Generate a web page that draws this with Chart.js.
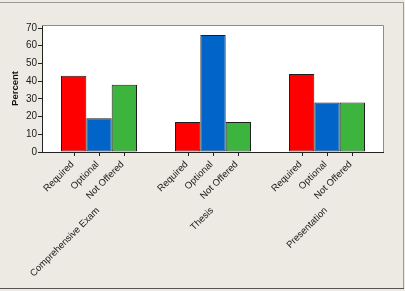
<!DOCTYPE html>
<html>
<head>
<meta charset="utf-8">
<script src="https://cdn.jsdelivr.net/npm/chart.js@4.4.1/dist/chart.umd.min.js"></script>
<style>
html, body { margin: 0; padding: 0; background: #EDEAE3; }
#wrap { width: 405px; height: 291px; }
</style>
</head>
<body>
<div id="wrap"><canvas id="chart" width="405" height="291"></canvas></div>
<script>
// data ===================================================//
const groups = ['Comprehensive Exam', 'Thesis', 'Presentation'];
const seriesNames = ['Required', 'Optional', 'Not Offered'];
const requiredVals = [43, 17, 44];
const optionalVals = [19, 66, 28];
const notOfferedVals = [38, 17, 28];
const yTickVals = [0, 10, 20, 30, 40, 50, 60, 70];

const RED = '#FF0000';
const BLUE = '#0064C8';
const GREEN = '#3DB43D';
const LABEL_FONT = '9.5px "Liberation Sans", Arial, sans-serif';

// background, frame and rotated labels ====================//
const framePlugin = {
    id: 'frame',
    beforeDraw(chart) {
        const ctx = chart.ctx;
        const a = chart.chartArea;
        ctx.save();
        ctx.fillStyle = '#EDEAE3';
        ctx.fillRect(0, 0, chart.width, chart.height);
        // outer frame
        ctx.strokeStyle = '#9A9A96';
        ctx.lineWidth = 1;
        ctx.beginPath();
        ctx.moveTo(0, 2.5);
        ctx.lineTo(403.5, 2.5);
        ctx.lineTo(403.5, 288.5);
        ctx.stroke();
        ctx.strokeStyle = '#555555';
        ctx.beginPath();
        ctx.moveTo(0, 288.5);
        ctx.lineTo(404, 288.5);
        ctx.stroke();
        // plot background
        ctx.fillStyle = '#FFFFFF';
        ctx.fillRect(a.left, a.top, a.right - a.left, a.bottom - a.top);
        ctx.restore();
    },
    afterDraw(chart) {
        const ctx = chart.ctx;
        const a = chart.chartArea;
        ctx.save();
        // top and right border of plot
        ctx.strokeStyle = '#8C8C8C';
        ctx.lineWidth = 1;
        ctx.beginPath();
        ctx.moveTo(a.left, a.top + 0.5);
        ctx.lineTo(a.right - 0.5, a.top + 0.5);
        ctx.lineTo(a.right - 0.5, a.bottom);
        ctx.stroke();
        // bottom axis line
        ctx.strokeStyle = '#222222';
        ctx.beginPath();
        ctx.moveTo(a.left, a.bottom + 0.5);
        ctx.lineTo(a.right, a.bottom + 0.5);
        ctx.stroke();

        ctx.fillStyle = '#1A1A1A';
        ctx.font = LABEL_FONT;
        ctx.textAlign = 'right';
        ctx.textBaseline = 'middle';
        chart.data.datasets.forEach((ds, di) => {
            const meta = chart.getDatasetMeta(di);
            meta.data.forEach((bar) => {
                const x = Math.round(bar.x) + 0.5;
                ctx.beginPath();
                ctx.moveTo(x, a.bottom);
                ctx.lineTo(x, a.bottom + 4);
                ctx.stroke();
                ctx.save();
                ctx.translate(x - 2, a.bottom + 11);
                ctx.rotate(-Math.PI / 4);
                ctx.fillText(ds.label, 0, 0);
                ctx.restore();
            });
        });
        // group names under the middle bar of each group
        const mid = chart.getDatasetMeta(1);
        groups.forEach((g, i) => {
            const x = mid.data[i].x;
            ctx.save();
            ctx.translate(x - 1, a.bottom + 57);
            ctx.rotate(-Math.PI / 4);
            ctx.fillText(g, 0, 0);
            ctx.restore();
        });
        ctx.restore();
    }
};

const barData = {
    labels: groups,
    datasets: [
        { label: seriesNames[0], data: requiredVals, backgroundColor: RED },
        { label: seriesNames[1], data: optionalVals, backgroundColor: BLUE },
        { label: seriesNames[2], data: notOfferedVals, backgroundColor: GREEN }
    ].map(d => Object.assign(d, {
        borderColor: '#1E1E1E',
        borderWidth: 1,
        borderSkipped: false,
        categoryPercentage: 0.667,
        barPercentage: 1.0
    }))
};

const barConfig = {
    type: 'bar',
    data: barData,
    options: {
        responsive: false,
        animation: false,
        layout: {
            padding: { left: 0, top: 25, right: 21, bottom: 139 }
        },
        plugins: {
            legend: { display: false },
            tooltip: { enabled: false }
        },
        scales: {
            x: {
                display: false
            },
            y: {
                min: 0,
                max: 71.7,
                afterBuildTicks: (scale) => {
                    scale.ticks = yTickVals.map(v => ({ value: v }));
                },
                afterFit: (scale) => {
                    scale.width = 42;
                },
                border: { display: true, color: '#222222', width: 1 },
                grid: {
                    drawOnChartArea: false,
                    drawTicks: true,
                    tickLength: 4,
                    tickColor: '#222222'
                },
                ticks: {
                    color: '#1A1A1A',
                    padding: 1,
                    font: { family: '"Liberation Sans", Arial, sans-serif', size: 10 }
                },
                title: {
                    display: true,
                    text: 'Percent',
                    color: '#111111',
                    padding: { top: 10, bottom: 0 },
                    font: { family: '"Liberation Sans", Arial, sans-serif', size: 9.5, weight: 'bold' }
                }
            }
        }
    },
    plugins: [framePlugin]
};

const barChart = new Chart(document.getElementById('chart'), barConfig);
</script>
</body>
</html>
